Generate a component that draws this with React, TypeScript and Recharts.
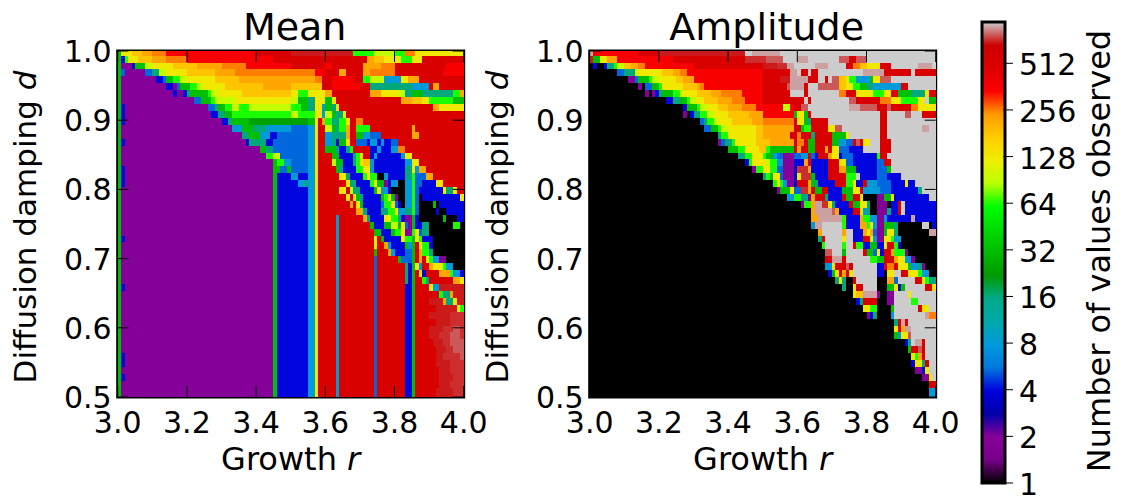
import { Bar, BarChart, ReferenceArea, Scatter, ScatterChart, XAxis, YAxis } from "recharts";

const COUNT_BY_CODE: Record<string, number> = {
  k: 1, p: 2, b: 4, m: 5.3, c: 8, t: 16, n: 24, g: 32, e: 45, l: 64, y: 90, Y: 128,
  o: 180, a: 220, O: 256, r: 362, R: 512, D: 700, q: 725, L: 780, w: 880, G: 946,
};

// rows run from d = 1.0 downwards, each token is <code><first column> over 100 columns of r
const MEAN_ROWS = [
  "g0 Y1 o4 a7 O10 r14 R40 D50 l68 y74 l80 O83 Y86",
  "g0 b1 l2 Y3 o6 a10 O14 r20 R45 a72 o74 Y77 l82 Y85 R88",
  "g0 p1 b4 g5 y8 Y10 o16 a23 O30 r37 R50 r60 R62 a71 O76 R80 r95",
  "g0 m1 p2 m8 t10 y12 Y14 o20 a28 O34 r57 R60 a64 R66 a71 O73 R80 r94",
  "g0 p1 b11 m13 g14 l16 y18 Y20 o28 a35 O57 R59 r62 R68 l71 y73 c77 Y82 a84 R87",
  "g0 p1 b14 p16 m17 g18 l21 y23 Y25 o31 a42 o50 R59 r62 R70 t73 c85 R90 a91 R93",
  "g0 p1 b16 p17 b19 t20 g21 l26 y27 Y29 o36 Y50 l52 Y55 a60 R62 a73 Y76 y81 t83 g85 t88 l97 a99",
  "g0 p1 m22 g24 l27 y28 Y34 y50 g52 t55 Y57 g60 Y62 R63 a82 o85 Y88 l90 g97",
  "g0 b1 p2 m26 t28 g29 l31 y33 l35 y38 l50 g53 t55 Y57 c59 g60 t62 Y63 R64 a91 Y93",
  "g0 b1 p2 b27 t29 g31 l33 y50 l52 Y57 c59 y60 g62 t63 Y65 R66",
  "g0 b1 p2 b30 t32 g33 n38 g55 Y57 R58 a59 l60 t62 l64 Y66 R67 O69 R71",
  "g0 p1 c33 g36 t39 c43 m50 c55 Y57 R58 y60 g62 t63 l64 a66 R67 l69 R73 a85 R86",
  "g0 p1 t36 g38 c41 b44 m46 c55 Y57 R58 c60 t62 a66 R67 g69 c71 m73 R76 a85 R87",
  "g0 b1 p2 b37 t38 b43 m45 c55 Y57 R58 c60 t62 b63 g64 Y66 R67 m69 b72 c73 b75 c76 b77 m79 R81",
  "g0 p1 g41 t43 m45 c55 Y57 R58 g60 t63 b64 t66 l67 R68 b73 c75 b76 c79 O81 R83",
  "g0 p1 l43 y45 m47 c55 Y57 R58 g62 b64 t68 l69 Y70 R71 b73 c74 b75 c82 Y83 R85",
  "g0 p1 g45 l46 c48 m50 c55 Y57 R58 y62 g63 b65 t68 l69 Y70 o71 c73 b74 c83 Y85 R87",
  "g0 b1 p2 g45 m47 g49 m50 c55 Y57 R58 g63 t64 b65 l69 Y71 c73 b74 t83 Y85 c86 a87 R89",
  "g0 b1 p2 g45 b46 c50 b52 c55 Y57 R58 Y64 t66 b67 l71 Y72 l73 k75 c77 b78 t83 l85 m86 a89 R91",
  "g0 b1 p2 g45 b46 c52 t54 c55 Y57 R58 Y66 t67 b69 l73 Y74 g75 p77 b78 c79 k81 c83 l85 m86 b88 Y92 R94",
  "g0 p1 g45 b46 c55 Y57 R58 Y64 R66 y67 t68 b70 g74 Y75 c76 b78 k79 c83 l85 m86 b87 Y94 t95 Y97 R98",
  "g0 p1 g45 b46 c55 Y57 R58 Y66 R67 Y68 g69 t70 b71 g76 l77 Y78 g79 p80 k81 c83 l85 m86 k87 b88 Y99",
  "g0 p1 g45 b46 c55 Y57 R58 a67 R68 Y69 g70 b71 m76 l77 Y79 m80 b81 k82 c83 l85 m86 k87 g91 k92 b93",
  "g0 p1 g45 b46 c55 Y57 R58 a69 t71 b72 t76 l78 Y80 c81 t83 l85 m86 k87 b92 k93 b95",
  "g0 p1 g45 b46 c55 Y57 R58 c63 R64 a71 t72 b73 Y77 l79 t81 b82 p83 g85 b86 k87 g94 k95 b98",
  "g0 p1 g45 b46 c55 Y57 R58 c63 R64 g73 b74 g77 y79 g81 Y82 m83 p84 g85 b86 t88 k90 l97 k99",
  "g0 p1 g45 b46 c55 Y57 R58 c63 R64 g74 b76 g79 l80 Y82 p83 l85 Y86 m87 t88 k90",
  "g0 b1 p2 g45 b46 c55 Y57 R58 c63 R64 Y74 R75 g76 b77 Y82 l83 g85 Y86 l87 b88 k91",
  "g0 p1 g45 b46 c55 Y57 R58 c63 R64 Y74 R75 a77 c78 b79 g83 c84 g85 R86 Y87 l88 b90 k91",
  "g0 p1 g45 b46 c55 Y57 R58 c63 R64 g74 R75 a78 c79 b80 m83 g85 R86 a87 l88 t90 k91",
  "g0 p1 g45 b46 c55 Y57 R58 c63 R64 m74 R75 g81 m82 g85 R86 a87 R88 Y89 l90 c91 p93 k95",
  "g0 p1 g45 b46 c55 Y57 R58 c63 R64 m74 R75 t83 b84 g85 Y86 c87 R88 a90 Y91 l94 c95 k97",
  "g0 p1 g45 b46 c55 Y57 R58 c63 R64 m74 R75 t83 b84 g85 R86 Y87 b88 R89 a93 l96 c97 b99",
  "g0 p1 g45 b46 c55 Y57 R58 c63 R64 m74 R75 t83 b84 g85 R86 l88 t89 R90 a97 Y99",
  "g0 b1 p2 g45 b46 c55 Y57 R58 c63 R64 m74 R75 b83 g85 R86 Y90 c91 D93",
  "g0 p1 g45 b46 c55 Y57 R58 c63 R64 m74 R75 b83 g85 R86 l93 t94 a96 D97",
  "g0 p1 g45 b46 c55 Y57 R58 c63 R64 m74 R75 b83 g85 R86 D90 a94 t95 Y97 D98",
  "g0 p1 g45 b46 c55 Y57 R58 c63 R64 m74 R75 b83 g85 R86 D92 Y98 l99",
  "g0 p1 g45 b46 c55 Y57 R58 c63 R64 m74 R75 b83 g85 R86 D90 q96",
  "g0 p1 g45 b46 c55 Y57 R58 c63 R64 m74 R75 b83 g85 R86 D92 q96",
  "g0 p1 g45 b46 c55 Y57 R58 c63 R64 m74 R75 b83 g85 R86 D90 q94 L97 q99",
  "g0 p1 g45 b46 c55 Y57 R58 c63 R64 m74 R75 b83 g85 R86 D90 q93 L96 q99",
  "g0 p1 g45 b46 c55 Y57 R58 c63 R64 m74 R75 b83 g85 R86 D91 q94 L96",
  "g0 p1 g45 b46 c55 Y57 R58 c63 R64 m74 R75 b83 g85 R86 D92 q95 L97",
  "g0 b1 p2 g45 b46 c55 Y57 R58 c63 R64 m74 R75 b83 g85 R86 D92 q94 L99",
  "g0 b1 p2 g45 b46 c55 Y57 R58 c63 R64 m74 R75 b83 g85 R86 D92 q96",
  "g0 p1 g45 b46 c55 Y57 R58 c63 R64 m74 R75 b83 g85 R86 D93 q96",
  "g0 b1 p2 g45 b46 c55 Y57 R58 c63 R64 m74 R75 b83 g85 R86 D93 q97",
  "g0 p1 g45 b46 c55 Y57 R58 c63 R64 m74 R75 b83 g85 R86 D93 q96",
  "g0 p1 g45 b46 c55 Y57 R58 c63 R64 m74 R75 b83 g85 R86 D92 q97",
];

const AMPLITUDE_ROWS = [
  "w0 r1 R14 D20 G45 w47 G55",
  "D0 g1 Y3 a5 r8 R24 q45 L51 G56 w60 G63 L72 R75 L77 G80",
  "k0 b1 k2 b4 t5 l7 y8 o10 a12 O14 r16 R30 D50 q54 w57 G59 w65 G69 R74 O76 o78 Y80 R84 G87 w95 G99",
  "k0 m8 t10 y13 Y14 o21 a24 O26 r28 R50 w58 G60 R61 G63 R64 G66 w79 R85 G93 R94",
  "k0 p11 m13 g14 l17 y18 Y20 o25 a27 r30 R50 D55 w58 R63 G66 R68 G69 L70 o72 Y74 l75 c77 g81 Y82 L84 G87",
  "k0 p14 k15 m16 g18 l20 Y21 o27 a31 O32 r33 R50 L57 w58 R62 G63 L66 o72 Y74 l76 g78 t80 c82 R90 G92",
  "k0 p16 k17 p18 b19 t20 g21 l24 y26 Y27 o31 a35 O38 r44 R50 G58 R62 G63 O72 R74 Y77 l82 Y85 R87 g89 t93 Y97 R98",
  "k0 b22 t24 g26 l28 y29 Y31 o33 a37 O41 r45 R50 G62 R63 G64 L75 R77 O84 Y87 l90 Y95 G97 g98",
  "k0 b27 g28 l31 y32 Y34 o37 a40 O44 r48 y56 r58 R59 L61 G63 w75 L78 R83 L86 R87 O93 Y95",
  "k0 p27 k28 b29 t30 l32 y34 Y36 o40 a46 r50 g59 Y60 g62 R63 G64 R84 G86 L91 G93 R96",
  "k0 m32 t33 l34 y36 Y37 o41 a47 O50 R59 Y60 g62 t63 R64 G69 R84 G86",
  "k0 m33 g35 l37 y38 Y40 o48 a50 R59 g61 l62 R64 Y69 G71 L71 G73 R84 G86 w96 G98",
  "k0 t37 l38 Y40 o48 a50 R58 O60 R61 t64 R65 g70 Y74 G75 R84 G86",
  "k0 p37 m38 t39 l41 Y42 o48 a52 R59 O60 R62 g63 R65 g70 c72 m74 R76 L77 R78 Y79 G81 R84 G87",
  "k0 g40 l43 Y45 o49 l51 g52 R59 a60 R61 g63 R65 a68 R69 Y70 m72 b75 G79 R84 G87",
  "k0 t43 l45 Y47 l50 g51 c53 m54 p56 m59 c61 R63 m64 b65 R66 a69 Y70 b72 m73 b76 l83 R84 G86",
  "k0 b45 l46 Y47 y51 l52 c54 p56 b59 a62 R63 b64 R69 Y72 m74 b76 m83 R85 G87",
  "k0 p47 l48 Y50 l52 m54 p56 b59 q60 a63 b64 R69 a72 g74 b77 m83 g86 G87",
  "k0 t50 l51 g52 Y53 m55 p56 b59 Y60 q61 g64 b65 R69 l74 G77 b78 m83 b86 G90",
  "k0 l53 Y54 l55 c56 p57 b59 R60 a63 g64 t65 b66 R71 l74 Y76 b77 R79 c80 m83 b87 Y91 b92 G94",
  "k0 p54 g55 Y58 m59 q61 a63 R64 g65 R67 b69 g73 Y76 R78 c79 m84 b87 t95 G96",
  "k0 c57 l59 t61 p63 a64 R65 t68 b69 R73 g74 R76 Y78 k79 p83 g85 Y87 b88 G98",
  "k0 p61 l62 a64 w65 q67 Y69 t70 b71 R75 g76 Y78 t80 k81 p83 k86 b87 R89 G90 b91",
  "k0 a64 w65 L70 a71 b72 R76 Y78 c79 t80 k81 p83 t86 b87 R89 G90 b91",
  "k0 a64 w66 l73 b74 a78 l79 c81 p83 c85 b86 w93 b94",
  "k0 c64 w65 G67 l73 b74 a78 l80 Y81 c82 p83 g85 t88 k89 G96 k98 b99",
  "k0 a66 G67 a73 G74 b76 a79 Y80 a81 m82 p83 g85 Y86 t88 k89 w98",
  "k0 t66 R67 G68 Y73 G74 b76 R79 Y81 c82 p83 Y85 l87 c88 k90",
  "k0 l67 G68 l73 G74 R76 l77 b79 g81 b83 Y85 R86 l88 b89 k90",
  "k0 L68 G70 g73 G74 R79 g80 m82 Y83 b84 R85 a87 l88 p91 k92",
  "k0 R68 w70 R73 G74 l81 g83 R85 a88 Y89 c91 p93 k94",
  "k0 c68 Y70 R71 L74 R75 G76 b83 R85 O86 R88 Y89 g92 c93 t95 p96 k97",
  "k0 b69 g70 Y71 R72 a73 R74 Y75 G76 b83 k85 Y86 G88 R90 Y92 l95 c96 k98",
  "k0 t71 Y72 t73 k74 R76 G77 k83 a86 m88 G89 R94 Y96 l97 t98",
  "k0 t73 k74 Y76 R77 G79 k83 g86 Y88 b89 g90 G91 R97 Y99",
  "k0 Y76 o77 w79 p83 k84 p86 G88 Y92 G93",
  "k0 b77 t78 R79 k83 p86 G88 l93 G95",
  "k0 Y79 l81 k83 g87 G88 R95 Y96 G98",
  "k0 p80 b81 t82 k83 c87 G88 w97 O98",
  "k0 t88 R89 w90 R91 G92",
  "k0 Y88 R89 a90 w91 G93",
  "k0 g88 c89 Y90 L92 G93",
  "k0 b91 t92 G93 w94 R96 G97",
  "k0 g92 R93 L95 R96 G97",
  "k0 Y93 l94 a95 R96 G97",
  "k0 b93 Y94 t96 R97 G98",
  "k0 p94 b96 Y97 G98",
  "k0 p96 Y98 G99",
  "k0 R98",
  "k0 c98",
];

const R_TICKS = [3.0, 3.2, 3.4, 3.6, 3.8, 4.0];
const D_TICKS = [0.5, 0.6, 0.7, 0.8, 0.9, 1.0];
const COUNT_TICKS = [1, 2, 4, 8, 16, 32, 64, 128, 256, 512];
const MAX_COUNT = 946;

// nipy_spectral control points
const SPECTRAL: [number, number, number, number][] = [
  [0, 0, 0, 0], [0.05, 119, 0, 136], [0.1, 136, 0, 153], [0.15, 0, 0, 170],
  [0.2, 0, 0, 221], [0.25, 0, 119, 221], [0.3, 0, 153, 221], [0.35, 0, 170, 170],
  [0.4, 0, 170, 136], [0.45, 0, 153, 0], [0.5, 0, 187, 0], [0.55, 0, 221, 0],
  [0.6, 0, 255, 0], [0.65, 187, 255, 0], [0.7, 238, 238, 0], [0.75, 255, 204, 0],
  [0.8, 255, 153, 0], [0.85, 255, 0, 0], [0.9, 221, 0, 0], [0.95, 204, 0, 0], [1, 204, 204, 204],
];

const FONT = "'DejaVu Sans', sans-serif";
const TICK_SIZE = 30;
const PLOT_W = 346;
const PLOT_H = 346;
const PLOT_LEFT = 117.7;
const PLOT_TOP = 51;
const CHART_W = 490;
const CHART_H = 496;
const COL_W = PLOT_W / 100;
const ROW_H = PLOT_H / 50;

function colorFor(count: number) {
  const t = Math.min(1, Math.log2(count) / Math.log2(MAX_COUNT));
  for (let i = 1; i < SPECTRAL.length; i++) {
    const [t1, r1, g1, b1] = SPECTRAL[i];
    if (t <= t1) {
      const [t0, r0, g0, b0] = SPECTRAL[i - 1];
      const f = (t - t0) / (t1 - t0);
      return `rgb(${r0 + (r1 - r0) * f},${g0 + (g1 - g0) * f},${b0 + (b1 - b0) * f})`;
    }
  }
  return "#cccccc";
}

function decodeRows(rows: string[]) {
  const cells: { r: number; d: number; count: number }[] = [];
  // the image starts a third of a row above the frame and ends just short of the bottom
  [...rows, rows[rows.length - 1]].forEach((row, rowIndex) => {
    const runs = row.split(" ").map((t) => ({ code: t[0], start: Number(t.slice(1)) }));
    runs.forEach((run, i) => {
      const end = i + 1 < runs.length ? runs[i + 1].start : 100;
      for (let col = run.start; col < end; col++) {
        cells.push({
          r: 3 + (col + 0.5) / 100,
          d: 1 - (0.5 * (rowIndex + 0.17)) / 50,
          count: COUNT_BY_CODE[run.code],
        });
      }
    });
  });
  return cells;
}

const meanCells = decodeRows(MEAN_ROWS);
const amplitudeCells = decodeRows(AMPLITUDE_ROWS);
const colorbarData = [{ name: "counts", level: Math.log2(MAX_COUNT) }];

function HeatCell(props: any) {
  const { cx, cy, payload } = props;
  const top = Math.max(cy - ROW_H / 2, PLOT_TOP);
  const bottom = Math.min(cy + ROW_H / 2, PLOT_TOP + PLOT_H);
  if (bottom <= top) return null;
  return (
    <rect
      x={cx - COL_W / 2}
      y={top}
      width={COL_W + 0.5}
      height={bottom - top + 0.5}
      fill={colorFor(payload.count)}
      shapeRendering="crispEdges"
    />
  );
}

function RTick({ x, payload }: any) {
  const bottom = PLOT_TOP + PLOT_H;
  return (
    <g>
      <line x1={x} x2={x} y1={bottom} y2={bottom - 11} stroke="#000" />
      <line x1={x} x2={x} y1={PLOT_TOP} y2={PLOT_TOP + 11} stroke="#000" />
      <text x={x} y={bottom + 36} textAnchor="middle" fontSize={TICK_SIZE} fontFamily={FONT} fill="#000">
        {payload.value.toFixed(1)}
      </text>
    </g>
  );
}

function DTick({ y, payload }: any) {
  return (
    <g>
      <line x1={PLOT_LEFT} x2={PLOT_LEFT + 11} y1={y} y2={y} stroke="#000" />
      <line x1={PLOT_LEFT + PLOT_W} x2={PLOT_LEFT + PLOT_W - 11} y1={y} y2={y} stroke="#000" />
      <text x={PLOT_LEFT - 6} y={y + 11} textAnchor="end" fontSize={TICK_SIZE} fontFamily={FONT} fill="#000">
        {payload.value.toFixed(1)}
      </text>
    </g>
  );
}

function CountTick({ x, y, payload }: any) {
  return (
    <g>
      <line x1={x - 10} x2={x} y1={y} y2={y} stroke="#000" />
      <text x={x + 6} y={y + 12} fontSize={TICK_SIZE} fontFamily={FONT} fill="#000">
        {COUNT_TICKS[payload.value]}
      </text>
    </g>
  );
}

function HeatPanel({ title, cells, left }: { title: string; cells: any[]; left: number }) {
  const mid = PLOT_LEFT + PLOT_W / 2;
  return (
    <div style={{ position: "absolute", left, top: 0 }}>
      <ScatterChart
        width={CHART_W}
        height={CHART_H}
        margin={{ top: PLOT_TOP, right: CHART_W - PLOT_LEFT - PLOT_W, bottom: 0, left: 0 }}
      >
        <Scatter data={cells} dataKey="d" shape={HeatCell} isAnimationActive={false} />
        <XAxis
          type="number"
          dataKey="r"
          domain={[3, 4]}
          ticks={R_TICKS}
          interval={0}
          height={CHART_H - PLOT_TOP - PLOT_H}
          axisLine={false}
          tickLine={false}
          tick={RTick}
        />
        <YAxis
          type="number"
          dataKey="d"
          domain={[0.5, 1]}
          allowDataOverflow
          ticks={D_TICKS}
          interval={0}
          width={PLOT_LEFT}
          axisLine={false}
          tickLine={false}
          tick={DTick}
        />
        <ReferenceArea x1={3} x2={4} y1={0.5} y2={1} fill="none" stroke="#000" strokeWidth={3} ifOverflow="visible" />
        <text x={mid + 4} y={40} textAnchor="middle" fontSize={38} fontFamily={FONT} fill="#000">
          {title}
        </text>
        <text x={mid} y={470} textAnchor="middle" fontSize={32} fontFamily={FONT} fill="#000">
          Growth <tspan fontStyle="italic">r</tspan>
        </text>
        <text
          transform={`translate(36 ${PLOT_TOP + PLOT_H / 2 + 3}) rotate(-90)`}
          textAnchor="middle"
          fontSize={31}
          fontFamily={FONT}
          fill="#000"
        >
          Diffusion damping <tspan fontStyle="italic">d</tspan>
        </text>
      </ScatterChart>
    </div>
  );
}

function ColorBar() {
  return (
    <div style={{ position: "absolute", left: 960, top: 0 }}>
      <BarChart
        width={163}
        height={CHART_H}
        data={colorbarData}
        barCategoryGap={0}
        margin={{ top: 22, right: 0, bottom: 13, left: 22 }}
      >
        <defs>
          <linearGradient id="countScale" x1="0" y1="1" x2="0" y2="0">
            {SPECTRAL.map(([t, r, g, b]) => (
              <stop key={t} offset={t} stopColor={`rgb(${r},${g},${b})`} />
            ))}
          </linearGradient>
        </defs>
        <Bar dataKey="level" fill="url(#countScale)" stroke="#000" strokeWidth={3} isAnimationActive={false} />
        <XAxis dataKey="name" hide />
        <YAxis
          orientation="right"
          type="number"
          domain={[0, Math.log2(MAX_COUNT)]}
          ticks={[0, 1, 2, 3, 4, 5, 6, 7, 8, 9]}
          interval={0}
          width={118}
          axisLine={false}
          tickLine={false}
          tick={CountTick}
        />
        <text
          transform="translate(150 251) rotate(-90)"
          textAnchor="middle"
          fontSize={32}
          fontFamily={FONT}
          fill="#000"
        >
          Number of values observed
        </text>
      </BarChart>
    </div>
  );
}

export default function App() {
  return (
    <div style={{ position: "absolute", left: 0, top: 0, width: 1123, height: CHART_H, background: "#fff" }}>
      <style>{`.recharts-scatter { filter: blur(0.6px); }`}</style>
      <HeatPanel title="Mean" cells={meanCells} left={0} />
      <HeatPanel title="Amplitude" cells={amplitudeCells} left={472.3} />
      <ColorBar />
    </div>
  );
}
